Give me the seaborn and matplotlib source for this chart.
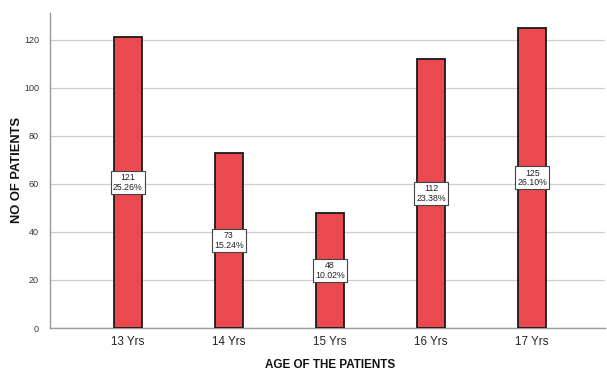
import matplotlib
matplotlib.use("Agg")
import matplotlib.pyplot as plt
import seaborn as sns
import pandas as pd

ages = ["13 Yrs", "14 Yrs", "15 Yrs", "16 Yrs", "17 Yrs"]
counts = [121, 73, 48, 112, 125]
percents = ["25.26%", "15.24%", "10.02%", "23.38%", "26.10%"]

df = pd.DataFrame({"age": ages, "count": counts})

sns.set_theme(style="white")
plt.rcParams["font.family"] = ["Liberation Sans", "DejaVu Sans"]

fig = plt.figure(figsize=(6.07, 3.72), dpi=100)
ax = fig.add_axes([50 / 607, 1 - 328 / 372, 555 / 607, 315 / 372])

sns.barplot(data=df, x="age", y="count", color="#EA4A4F", saturation=1,
            width=0.28, edgecolor="#1a1a1a", linewidth=1.3, ax=ax, zorder=3)

ax.set_ylim(0, 131.2)
ax.set_xlim(-0.77, 4.72)
ax.set_yticks(range(0, 121, 20))
ax.yaxis.grid(True, color="#cfcfcf", linewidth=0.9, zorder=0)
ax.set_axisbelow(True)

for s in ["top", "right"]:
    ax.spines[s].set_visible(False)
for s in ["left", "bottom"]:
    ax.spines[s].set_color("#9a9a9a")
    ax.spines[s].set_linewidth(1.0)

ax.tick_params(axis="y", labelsize=6.5, labelcolor="#333333", length=0, pad=8)
ax.tick_params(axis="x", labelsize=8.4, labelcolor="#222222", length=0, pad=6)

ax.set_xlabel("AGE OF THE PATIENTS", fontsize=8.4, fontweight="bold",
              color="#111111", va="center")
ax.xaxis.set_label_coords((330 - 50) / 555, (328 - 365) / 315)
ax.set_ylabel("NO OF PATIENTS", fontsize=9.3, fontweight="bold",
              color="#111111", va="center")
ax.yaxis.set_label_coords((17 - 50) / 555, (328 - 170) / 315)

for i, (c, p) in enumerate(zip(counts, percents)):
    ax.text(i, c / 2, f"{c}\n{p}", ha="center", va="center", fontsize=6.3,
            color="#222222", linespacing=1.1, zorder=5,
            bbox=dict(boxstyle="square,pad=0.25", facecolor="white",
                      edgecolor="#444444", linewidth=0.8))

fig.savefig("out.png", dpi=100)
